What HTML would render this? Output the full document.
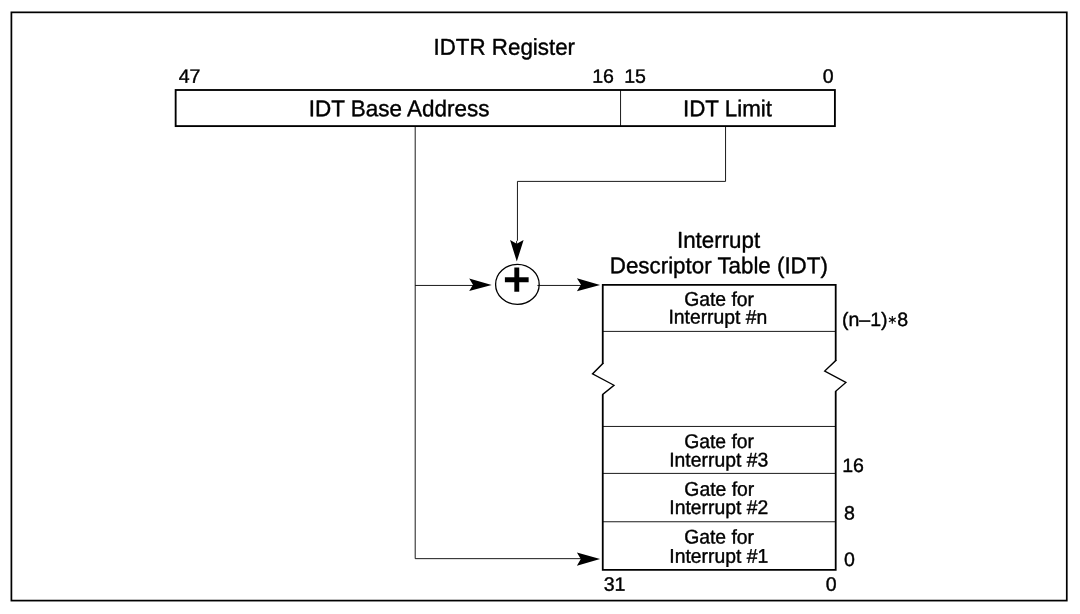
<!DOCTYPE html>
<html lang="en">
<head>
<meta charset="utf-8">
<title>IDTR Register and Interrupt Descriptor Table</title>
<style>
html,body{margin:0;padding:0;background:#fff;}
body{width:1080px;height:614px;overflow:hidden;}
svg{display:block;will-change:transform;}
text{font-family:"Liberation Sans",Arial,Helvetica,sans-serif;fill:#000;stroke:#000;stroke-width:0.4px;stroke-linejoin:round;}
.thin{stroke:#000;stroke-width:0.9;fill:none;}
.box{stroke:#000;stroke-width:1.85;fill:none;}
.ah{fill:#000;stroke:none;}
</style>
</head>
<body>
<svg width="1080" height="614" viewBox="0 0 1080 614">
<rect x="0" y="0" width="1080" height="614" fill="#fff"/>
<!-- outer frame -->
<rect x="11.4" y="12.35" width="1055.38" height="588.25" fill="none" stroke="#000" stroke-width="1.72"/>
<!-- IDTR register box -->
<rect class="box" x="175.65" y="90" width="659.25" height="36.1"/>
<line class="thin" x1="620.55" y1="90" x2="620.55" y2="126"/>
<!-- connector lines -->
<path class="thin" d="M415.2 126.5 V558.65 H582"/>
<path class="thin" d="M415.2 285.45 H475"/>
<path class="thin" d="M725.55 126.5 V181.4 H517.45 V240.5 L516.6 241.2 V244"/>
<path class="thin" d="M537.4 285.45 H582"/>
<!-- adder -->
<ellipse cx="517.4" cy="284.4" rx="21.8" ry="20.0" fill="none" stroke="#000" stroke-width="1.3"/>
<text x="516.75" y="294.8" text-anchor="middle" font-size="45.5" style="stroke-width:1.65px;stroke-linejoin:miter">+</text>
<!-- arrow heads -->
<path class="ah" d="M491.7 284.9 L469.2 278.4 L473 284.8 L469.2 291.1 Z"/>
<path class="ah" d="M600.1 284.9 L576.9 278.3 L581 284.8 L576.9 291.2 Z"/>
<path class="ah" d="M600.1 559 L576.9 552.4 L580.8 559 L576.9 565.8 Z"/>
<path class="ah" d="M516.8 261.6 L510.1 239.9 L516.7 243.7 L523.6 239.9 Z"/>
<!-- IDT box -->
<path class="box" style="stroke-width:1.8" d="M602.75 364 V284.85 H835.7 V361"/>
<path class="box" style="stroke-width:1.35;stroke-linejoin:miter" d="M602.75 363 V363.6 L592.5 373.9 L614.0 385.25 L602.75 394.4 V395"/>
<path class="box" style="stroke-width:1.35;stroke-linejoin:miter" d="M835.7 360 V360.6 L824.7 371.1 L845.9 382.5 L835.7 391.3 V392"/>
<path class="box" style="stroke-width:1.8" d="M602.75 394.4 V569.85 H835.7 V391.3"/>
<path class="thin" d="M602.75 331.4 H835.7 M602.75 426.45 H835.7 M602.75 473.4 H835.7 M602.75 521.75 H835.7"/>
<!-- labels -->
<text transform="translate(433.52 54.70) rotate(0.03) scale(0.976 1)" font-size="22.9">IDTR Register</text>
<text transform="translate(178.64 82.80) rotate(0.03) scale(1.008 1)" font-size="19.4">47</text>
<text transform="translate(592.16 82.80) rotate(0.03) scale(1.008 1)" font-size="19.4">16</text>
<text transform="translate(624.19 82.80) rotate(0.03) scale(1.008 1)" font-size="19.4">15</text>
<text transform="translate(822.66 82.80) rotate(0.03) scale(1.008 1)" font-size="19.4">0</text>
<text transform="translate(308.84 116.20) rotate(0.03) scale(0.981 1)" font-size="22.9">IDT Base Address</text>
<text transform="translate(683.00 116.20) rotate(0.03) scale(0.976 1)" font-size="22.9">IDT Limit</text>
<text transform="translate(676.97 247.80) rotate(0.03) scale(0.976 1)" font-size="22.9">Interrupt</text>
<text transform="translate(609.82 273.20) rotate(0.03) scale(0.976 1)" font-size="22.9">Descriptor Table (IDT)</text>
<text transform="translate(684.16 305.85) rotate(0.03) scale(0.975 1)" font-size="19.85">Gate for</text>
<text transform="translate(668.40 323.60) rotate(0.03) scale(0.975 1)" font-size="19.85">Interrupt #n</text>
<text transform="translate(684.16 447.90) rotate(0.03) scale(0.975 1)" font-size="19.85">Gate for</text>
<text transform="translate(669.24 466.50) rotate(0.03) scale(0.975 1)" font-size="19.85">Interrupt #3</text>
<text transform="translate(684.36 495.70) rotate(0.03) scale(0.975 1)" font-size="19.85">Gate for</text>
<text transform="translate(669.35 514.05) rotate(0.03) scale(0.975 1)" font-size="19.85">Interrupt #2</text>
<text transform="translate(684.16 543.60) rotate(0.03) scale(0.975 1)" font-size="19.85">Gate for</text>
<text transform="translate(669.34 562.80) rotate(0.03) scale(0.975 1)" font-size="19.85">Interrupt #1</text>
<text transform="translate(841.92 326.10) rotate(0.03) scale(1.008 1)" font-size="19.4">(n–1)</text>
<text transform="translate(887.3 323.85) rotate(0.03)" font-size="12.2" style="font-family:'DejaVu Sans',sans-serif;stroke-width:0.15px">∗</text>
<text transform="translate(897.36 326.10) rotate(0.03) scale(1.008 1)" font-size="19.4">8</text>
<text transform="translate(842.16 471.90) rotate(0.03) scale(1.008 1)" font-size="19.4">16</text>
<text transform="translate(844.01 519.40) rotate(0.03) scale(1.008 1)" font-size="19.4">8</text>
<text transform="translate(843.91 566.00) rotate(0.03) scale(1.008 1)" font-size="19.4">0</text>
<text transform="translate(603.63 590.70) rotate(0.03) scale(1.008 1)" font-size="19.4">31</text>
<text transform="translate(825.81 590.70) rotate(0.03) scale(1.008 1)" font-size="19.4">0</text>
</svg>
</body>
</html>
